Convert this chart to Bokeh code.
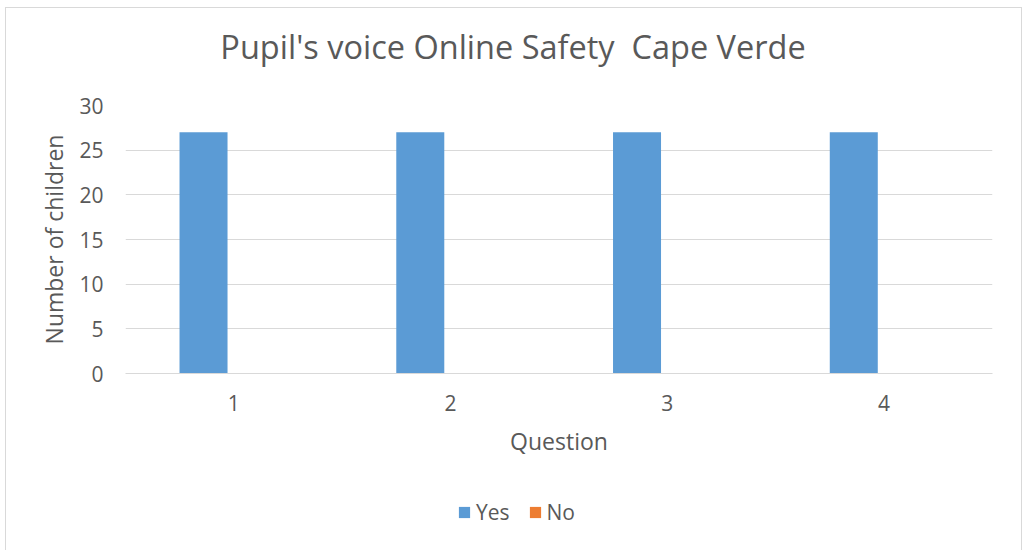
from bokeh.plotting import figure
from bokeh.layouts import column
from bokeh.models import FactorRange, Legend, LegendItem, SingleIntervalTicker, ColumnDataSource, Label
from bokeh.transform import dodge
from bokeh.embed import file_html
from bokeh.resources import INLINE

questions = ["1", "2", "3", "4"]
yes_counts = [27, 27, 27, 27]
no_counts = [0, 0, 0, 0]
series_names = ["Yes", "No"]
series_fields = ["yes", "no"]
series_colors = ["#5b9bd5", "#ed7d31"]
title_text = "Pupil's voice Online Safety \u00a0Cape Verde"

FONT = "Open Sans"
TXT = "#595959"
GRID = "#d9d9d9"
W = 1015

src = ColumnDataSource(dict(q=questions, yes=yes_counts, no=no_counts))

# ---- title strip ----
p0 = figure(width=W, height=80, output_backend="svg", toolbar_location=None,
            min_border=0, x_axis_type=None, y_axis_type=None)
p0.outline_line_color = None
p0.grid.visible = False
p0.background_fill_color = "white"
p0.border_fill_color = "white"
p0.add_layout(Label(x=387.5, y=42, x_units="screen", y_units="screen", text=title_text,
                    text_align="center", text_baseline="alphabetic",
                    text_font=FONT, text_font_size="32.5px", text_color=TXT))

# ---- main chart ----
p = figure(x_range=FactorRange(*questions), y_range=(0, 30),
           width=W, height=380, output_backend="svg", toolbar_location=None,
           min_border_left=119, min_border_right=29, min_border_top=17, min_border_bottom=95)
p.outline_line_color = None
p.background_fill_color = "white"
p.border_fill_color = "white"

offsets = [-0.14, 0.08]
for field, color, off in zip(series_fields, series_colors, offsets):
    p.vbar(x=dodge("q", off, range=p.x_range), top=field, width=0.2215, source=src,
           fill_color=color, line_color=None)

p.yaxis.ticker = SingleIntervalTicker(interval=5)
p.ygrid.grid_line_color = GRID
p.ygrid.grid_line_width = 1
p.xgrid.grid_line_color = None

for ax in (p.xaxis[0], p.yaxis[0]):
    ax.major_tick_line_color = None
    ax.minor_tick_line_color = None
    ax.major_label_text_font = FONT
    ax.major_label_text_color = TXT
    ax.major_label_text_font_size = "21px"
    ax.axis_label_text_font = FONT
    ax.axis_label_text_color = TXT
    ax.axis_label_text_font_size = "23px"
    ax.axis_label_text_font_style = "normal"

p.yaxis.axis_line_color = None
p.xaxis.axis_line_color = GRID
p.xaxis.axis_label = "Question"
p.yaxis.axis_label = "Number of children"
p.xaxis.major_label_standoff = 15
p.yaxis.major_label_standoff = 16
p.xaxis.axis_label_standoff = 11
p.yaxis.axis_label_standoff = 6

# ---- legend strip ----
p2 = figure(x_range=FactorRange(*questions), width=W, height=82, output_backend="svg",
            toolbar_location=None, min_border=0, x_axis_type=None, y_axis_type=None)
p2.outline_line_color = None
p2.grid.visible = False
p2.background_fill_color = "white"
p2.border_fill_color = "white"
items = []
for name, field, color in zip(series_names, series_fields, series_colors):
    r = p2.vbar(x="q", top=field, width=0.2, source=src, fill_color=color, line_color=None,
                visible=False)
    items.append(LegendItem(label=name, renderers=[r]))
legend = Legend(items=items, orientation="horizontal", location=(332, 24),
                glyph_width=14, glyph_height=14, label_standoff=5, spacing=18,
                padding=0, margin=0, border_line_color=None, background_fill_alpha=0,
                inactive_fill_alpha=0,
                label_text_font=FONT, label_text_font_size="21px", label_text_color=TXT)
p2.add_layout(legend, "center")

layout = column(p0, p, p2, spacing=0)
layout.styles = {"margin-left": "5px", "margin-top": "7px",
                 "border-top": "1px solid #d9d9d9", "border-left": "1px solid #d9d9d9",
                 "border-right": "1px solid #d9d9d9"}

open("out.html", "w").write(file_html(layout, INLINE))
